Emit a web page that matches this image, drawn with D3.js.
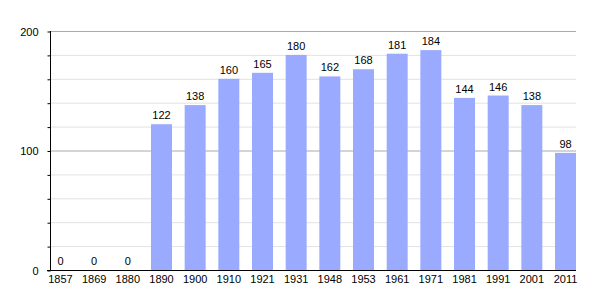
<!DOCTYPE html>
<html><head><meta charset="utf-8">
<script src="https://cdn.jsdelivr.net/npm/d3@7"></script>
<style>body{margin:0;background:#fff}svg{display:block}text{font-family:"Liberation Sans",Arial,sans-serif;}</style>
</head><body>
<svg id="c" width="605" height="300"></svg>
<script>
const years = ["1857","1869","1880","1890","1900","1910","1921","1931","1948","1953","1961","1971","1981","1991","2001","2011"];
const population = [0,0,0,122,138,160,165,180,162,168,181,184,144,146,138,98];
const majorTicks = [0,100,200];
const minorTicks = [20,40,60,80,120,140,160,180];

const svg = d3.select("#c");
const mLeft = 50, mRight = 576, mTop = 31, mBottom = 270;
const x = d3.scaleBand().domain(years).range([mLeft, mRight]).paddingInner(0.377).paddingOuter(0);
const y = d3.scaleLinear().domain([0,200]).range([mBottom, mTop]);

// minor grid
svg.append("g").selectAll("line").data(minorTicks).join("line")
  .attr("x1", mLeft).attr("x2", mRight).attr("y1", d=>y(d)+0.5).attr("y2", d=>y(d)+0.5)
  .attr("stroke", "#e2e2e2").attr("stroke-width", 1);
// major grid
svg.append("g").selectAll("line").data(majorTicks.filter(d=>d>0)).join("line")
  .attr("x1", mLeft).attr("x2", mRight).attr("y1", d=>y(d)+0.5).attr("y2", d=>y(d)+0.5)
  .attr("stroke", "#aaaaaa").attr("stroke-width", 1);

// bars
svg.append("g").selectAll("rect").data(years).join("rect")
  .attr("x", d=>x(d)).attr("width", x.bandwidth())
  .attr("y", (d,i)=>y(population[i])).attr("height", (d,i)=>mBottom - y(population[i]))
  .attr("fill", "#99aaff");

// value labels
svg.append("g").selectAll("text").data(years).join("text")
  .attr("x", d=>x(d)+x.bandwidth()/2).attr("y", (d,i)=>y(population[i]) - 5)
  .attr("text-anchor","middle").attr("font-size", 11).attr("fill","#000")
  .text((d,i)=>population[i]);

// y axis
const yAxis = d3.axisLeft(y).tickValues([0,20,40,60,80,100,120,140,160,180,200]).tickSize(3)
  .tickFormat(d => majorTicks.includes(d) ? d : "");
const ga = svg.append("g").attr("transform", `translate(${mLeft+0.5},0.5)`).call(yAxis);
ga.select(".domain").remove();
ga.selectAll(".tick line").attr("stroke","#000");
ga.selectAll(".tick text").attr("font-size", 11).attr("x", -12).attr("dy","0.32em").attr("font-family",'"Liberation Sans",Arial,sans-serif');
svg.append("line").attr("x1", mLeft+0.5).attr("x2", mLeft+0.5).attr("y1", mTop).attr("y2", mBottom+1).attr("stroke","#000");
// x axis line
svg.append("line").attr("x1", mLeft-3).attr("x2", mRight).attr("y1", mBottom+0.5).attr("y2", mBottom+0.5).attr("stroke","#000");

// x labels
const xAxis = d3.axisBottom(x).tickSize(0).tickPadding(4);
const gx = svg.append("g").attr("transform", `translate(0,${mBottom+1})`).call(xAxis);
gx.select(".domain").remove();
gx.selectAll(".tick text").attr("font-size", 11).attr("fill","#000").attr("font-family",'"Liberation Sans",Arial,sans-serif');
</script>
</body></html>
